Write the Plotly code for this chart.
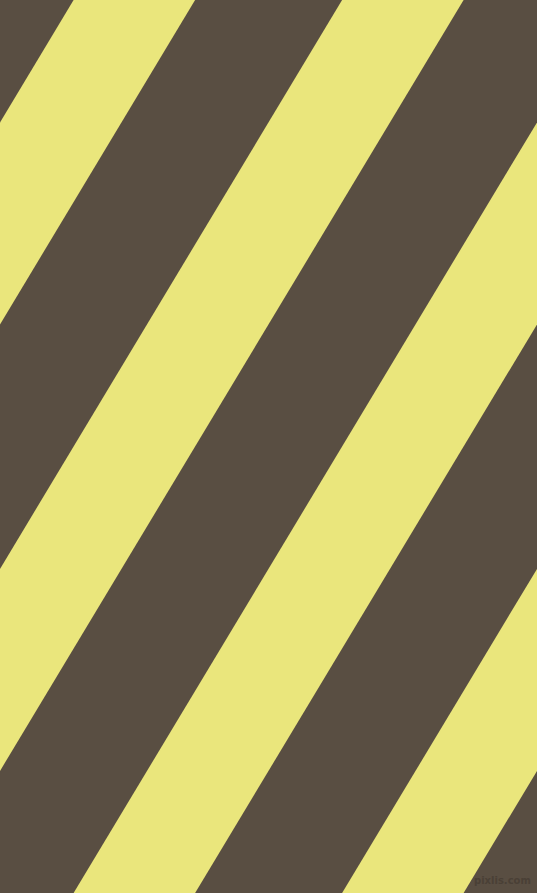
import plotly.graph_objects as go

# Canvas size (pixels = data units)
W, H = 537, 893

# Stripe data: x position where each light band's left edge meets the top edge
band_starts = [73.6, 342.1, 610.6, 879.1]
band_width = 121.5          # horizontal width of each light band
drift = 537.0               # horizontal shift of a band edge from top to bottom

dark_color = "#594E42"
light_color = "#EAE67C"

fig = go.Figure()
for t in band_starts:
    xs = [t, t + band_width, t + band_width - drift, t - drift, t]
    ys = [0, 0, H, H, 0]
    fig.add_trace(go.Scatter(
        x=xs, y=ys, mode="lines", fill="toself",
        fillcolor=light_color, line=dict(width=0, color=light_color),
        hoverinfo="skip", showlegend=False,
    ))

fig.add_annotation(
    x=533, y=888, xref="x", yref="y", xanchor="right", yanchor="bottom",
    text="<b>pixlis.com</b>", showarrow=False,
    font=dict(family="DejaVu Sans", size=10, color="#4A4036"),
)

fig.update_layout(
    width=W, height=H,
    margin=dict(l=0, r=0, t=0, b=0, pad=0),
    paper_bgcolor=dark_color, plot_bgcolor=dark_color,
    xaxis=dict(range=[0, W], visible=False, fixedrange=True),
    yaxis=dict(range=[H, 0], visible=False, fixedrange=True),
    showlegend=False,
)

fig.write_html(
    "out.html",
    config={"displayModeBar": False},
    post_script="document.body.style.margin='0';document.body.style.overflow='hidden';",
)
